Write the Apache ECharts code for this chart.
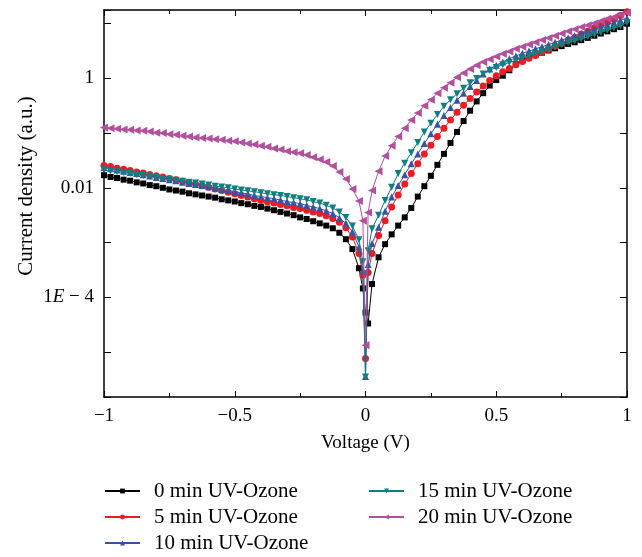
<!DOCTYPE html>
<html>
<head>
<meta charset="utf-8">
<script src="https://cdn.jsdelivr.net/npm/echarts@6/dist/echarts.min.js"></script>
<style>
html, body { margin: 0; padding: 0; background: #fff; }
#chart { width: 642px; height: 557px; }
</style>
</head>
<body>
<div id="chart"></div>
<script>
var fontName = 'Liberation Serif';

// voltage (V)
var voltage = [-1, -0.975, -0.95, -0.925, -0.9, -0.875, -0.85, -0.825, -0.8, -0.775,
	-0.75, -0.725, -0.7, -0.675, -0.65, -0.625, -0.6, -0.575, -0.55, -0.525,
	-0.5, -0.475, -0.45, -0.425, -0.4, -0.375, -0.35, -0.325, -0.3, -0.275,
	-0.25, -0.225, -0.2, -0.175, -0.15, -0.125, -0.1, -0.075, -0.05, -0.025,
	-0.01, 0, 0.01,
	0.025, 0.05, 0.075, 0.1, 0.125, 0.15, 0.175, 0.2, 0.225, 0.25,
	0.275, 0.3, 0.325, 0.35, 0.375, 0.4, 0.425, 0.45, 0.475, 0.5,
	0.525, 0.55, 0.575, 0.6, 0.625, 0.65, 0.675, 0.7, 0.725, 0.75,
	0.775, 0.8, 0.825, 0.85, 0.875, 0.9, 0.925, 0.95, 0.975, 1];

// current density (a.u.)
var j0min = [1.70e-2, 1.58e-2, 1.51e-2, 1.41e-2, 1.35e-2, 1.26e-2, 1.20e-2, 1.12e-2, 1.07e-2, 1.00e-2,
	9.33e-3, 8.91e-3, 8.51e-3, 7.94e-3, 7.59e-3, 7.24e-3, 6.92e-3, 6.61e-3, 6.17e-3, 5.89e-3,
	5.62e-3, 5.25e-3, 5.01e-3, 4.68e-3, 4.47e-3, 4.17e-3, 3.89e-3, 3.63e-3, 3.39e-3, 3.16e-3,
	2.88e-3, 2.69e-3, 2.45e-3, 2.24e-3, 2.04e-3, 1.82e-3, 1.51e-3, 1.15e-3, 7.59e-4, 3.39e-4,
	1.45e-4, 5.25e-5, 3.31e-5,
	1.74e-4, 5.37e-4, 9.33e-4, 1.41e-3, 2.04e-3, 2.88e-3, 4.27e-3, 6.92e-3, 1.07e-2, 1.66e-2,
	2.63e-2, 4.17e-2, 6.61e-2, 0.105, 0.166, 0.257, 0.380, 0.537, 0.741, 0.933,
	1.12, 1.41, 1.82, 2.14, 2.45, 2.69, 2.95, 3.24, 3.55, 3.89,
	4.27, 4.57, 5.01, 5.50, 6.03, 6.61, 7.24, 7.94, 8.71, 10.0];
var j5min = [2.57e-2, 2.45e-2, 2.29e-2, 2.19e-2, 2.07e-2, 1.95e-2, 1.86e-2, 1.76e-2, 1.66e-2, 1.58e-2,
	1.48e-2, 1.40e-2, 1.32e-2, 1.24e-2, 1.17e-2, 1.10e-2, 1.02e-2, 9.55e-3, 8.91e-3, 8.32e-3,
	7.76e-3, 7.24e-3, 6.76e-3, 6.31e-3, 5.89e-3, 5.56e-3, 5.25e-3, 4.95e-3, 4.68e-3, 4.37e-3,
	4.17e-3, 3.89e-3, 3.63e-3, 3.39e-3, 3.09e-3, 2.75e-3, 2.34e-3, 1.86e-3, 1.26e-3, 6.31e-4,
	2.51e-4, 7.59e-6, 2.82e-4,
	6.31e-4, 1.35e-3, 2.51e-3, 4.47e-3, 7.41e-3, 1.17e-2, 1.82e-2, 2.75e-2, 4.17e-2, 6.03e-2,
	8.71e-2, 0.123, 0.174, 0.240, 0.324, 0.427, 0.562, 0.724, 0.912, 1.12,
	1.32, 1.51, 1.78, 2.04, 2.34, 2.63, 3.02, 3.39, 3.89, 4.37,
	5.01, 5.62, 6.46, 7.24, 8.32, 9.33, 10.7, 12.0, 14.1, 16.6];
var j10min = [2.34e-2, 2.24e-2, 2.11e-2, 2.00e-2, 1.91e-2, 1.82e-2, 1.74e-2, 1.64e-2, 1.55e-2, 1.48e-2,
	1.41e-2, 1.35e-2, 1.27e-2, 1.20e-2, 1.15e-2, 1.10e-2, 1.05e-2, 9.89e-3, 9.33e-3, 8.91e-3,
	8.51e-3, 8.13e-3, 7.67e-3, 7.24e-3, 6.92e-3, 6.61e-3, 6.31e-3, 5.96e-3, 5.62e-3, 5.37e-3,
	5.13e-3, 4.79e-3, 4.47e-3, 4.17e-3, 3.80e-3, 3.39e-3, 2.82e-3, 2.24e-3, 1.58e-3, 8.32e-4,
	3.16e-4, 3.55e-6, 3.98e-4,
	9.55e-4, 1.91e-3, 3.72e-3, 6.76e-3, 1.10e-2, 1.74e-2, 2.75e-2, 4.17e-2, 6.46e-2, 9.77e-2,
	0.145, 0.209, 0.295, 0.398, 0.537, 0.708, 0.912, 1.20, 1.48, 1.74,
	2.00, 2.29, 2.57, 2.88, 3.16, 3.47, 3.80, 4.17, 4.57, 5.01,
	5.50, 6.03, 6.61, 7.24, 7.94, 8.71, 9.55, 10.5, 11.5, 12.6];
var j15min = [2.14e-2, 2.04e-2, 1.97e-2, 1.91e-2, 1.82e-2, 1.74e-2, 1.68e-2, 1.62e-2, 1.55e-2, 1.48e-2,
	1.43e-2, 1.38e-2, 1.32e-2, 1.26e-2, 1.22e-2, 1.17e-2, 1.12e-2, 1.07e-2, 1.04e-2, 1.00e-2,
	9.55e-3, 9.12e-3, 8.81e-3, 8.51e-3, 8.13e-3, 7.76e-3, 7.50e-3, 7.24e-3, 6.92e-3, 6.61e-3,
	6.31e-3, 6.03e-3, 5.62e-3, 5.25e-3, 4.79e-3, 4.27e-3, 3.63e-3, 2.88e-3, 2.00e-3, 1.12e-3,
	4.47e-4, 3.47e-6, 7.08e-4,
	1.78e-3, 3.16e-3, 5.89e-3, 1.02e-2, 1.82e-2, 2.82e-2, 4.37e-2, 6.76e-2, 0.105, 0.151,
	0.219, 0.309, 0.407, 0.525, 0.661, 0.832, 1.00, 1.20, 1.41, 1.58,
	1.78, 1.95, 2.14, 2.34, 2.57, 2.82, 3.09, 3.39, 3.72, 4.07,
	4.47, 4.79, 5.25, 5.75, 6.31, 6.92, 7.59, 8.32, 9.12, 10.5];
var j20min = [0.126, 0.123, 0.120, 0.117, 0.115, 0.112, 0.110, 0.107, 0.102, 0.100,
	0.0955, 0.0933, 0.0891, 0.0871, 0.0832, 0.0813, 0.0794, 0.0776, 0.0759, 0.0724,
	0.0708, 0.0676, 0.0646, 0.0617, 0.0589, 0.0562, 0.0525, 0.0501, 0.0468, 0.0447,
	0.0427, 0.0398, 0.0363, 0.0331, 0.0295, 0.0251, 0.0195, 0.0145, 0.00955, 0.00575,
	0.00251, 1.32e-5, 0.00355,
	0.00891, 0.0200, 0.0380, 0.0589, 0.0871, 0.123, 0.174, 0.234, 0.316, 0.407,
	0.537, 0.676, 0.832, 1.05, 1.26, 1.48, 1.74, 2.00, 2.24, 2.51,
	2.82, 3.09, 3.47, 3.80, 4.17, 4.57, 5.01, 5.50, 6.03, 6.61,
	7.24, 7.94, 8.71, 9.33, 10.2, 11.2, 12.3, 13.2, 14.5, 15.8];

var seriesNames = ['0 min UV-Ozone', '5 min UV-Ozone', '10 min UV-Ozone', '15 min UV-Ozone', '20 min UV-Ozone'];
var seriesValues = [j0min, j5min, j10min, j15min, j20min];
var colors = ['#000000', '#ed1c24', '#3953a4', '#0f7f7f', '#b2509e'];
var symbols = ['rect', 'circle', 'triangle', 'triangle', 'triangle'];
var symbolRotates = [0, 0, 0, 180, 90];
var symbolSizes = [6, 7, 7, 7, 8];

function pairs(vals) {
	var out = [];
	for (var i = 0; i < voltage.length; i++)
		out.push([voltage[i], vals[i]]);
	return out;
}

var series = [];
for (var s = 0; s < seriesNames.length; s++) {
	series.push({
		name: seriesNames[s],
		type: 'line',
		data: pairs(seriesValues[s]),
		symbol: symbols[s],
		symbolRotate: symbolRotates[s],
		symbolSize: symbolSizes[s],
		showSymbol: true,
		showAllSymbol: true,
		lineStyle: { width: 1, color: colors[s] },
		itemStyle: { color: colors[s] },
		z: 2 + s
	});
}

var txt = { fontFamily: fontName, fontSize: 19, color: '#000' };

function yLabel(v) {
	var lg = Math.log10(v), e = Math.round(lg);
	if (Math.abs(lg - e) > 1e-6) return '';
	if (e === 0) return '1';
	if (e === -2) return '0.01';
	if (e === -4) return '1{i|E} \u2212 4';
	return '';
}

var legendBase = {
	orient: 'vertical',
	padding: 0,
	itemWidth: 35,
	itemHeight: 6,
	itemGap: 4,
	textStyle: { fontFamily: fontName, fontSize: 21, color: '#000', lineHeight: 22, padding: [0, 0, 0, 9] }
};

var frameLine = { onZero: false, lineStyle: { color: '#000', width: 1.5 } };
var tick = { inside: true, length: 6, lineStyle: { color: '#000' } };
var minor = { show: true, splitNumber: 2, length: 4, lineStyle: { color: '#000' } };

var myChart = echarts.init(document.getElementById('chart'));
var option = {
	backgroundColor: '#fff',
	animation: false,
	grid: { left: 104, right: 15, top: 10, bottom: 160 },
	legend: [
		Object.assign({}, legendBase, { left: 104, top: 480, data: seriesNames.slice(0, 3) }),
		Object.assign({}, legendBase, { left: 368, top: 480, data: seriesNames.slice(3) })
	],
	xAxis: [{
		type: 'value', min: -1, max: 1, interval: 0.5,
		name: 'Voltage (V)', nameLocation: 'middle', nameGap: 37,
		nameTextStyle: txt,
		axisLine: frameLine,
		axisTick: tick,
		minorTick: minor,
		splitLine: { show: false },
		axisLabel: Object.assign({ margin: 10, formatter: function (v) { return String(v).replace('-', '\u2212'); } }, txt)
	}, {
		type: 'value', min: -1, max: 1, interval: 0.5, position: 'top',
		axisLine: frameLine,
		axisTick: tick,
		minorTick: minor,
		splitLine: { show: false },
		axisLabel: { show: false }
	}],
	yAxis: [{
		type: 'log', logBase: 10, min: 1.5e-6, max: 17.8,
		axisLine: { show: true, onZero: false, lineStyle: { color: '#000', width: 1.5 } },
		axisTick: { show: true, inside: true, length: 7, lineStyle: { color: '#000' } },
		splitLine: { show: false },
		axisLabel: Object.assign({ margin: 10, formatter: yLabel,
			rich: { i: { fontFamily: fontName, fontSize: 19, fontStyle: 'italic', color: '#000' } } }, txt)
	}, {
		type: 'log', logBase: 10, min: 1.5e-6, max: 17.8, position: 'right',
		axisLine: { show: true, onZero: false, lineStyle: { color: '#000', width: 1.5 } },
		axisTick: { show: true, inside: true, length: 7, lineStyle: { color: '#000' } },
		splitLine: { show: false },
		axisLabel: { show: false }
	}],
	graphic: [{
		type: 'text',
		x: 26, y: 186,
		rotation: Math.PI / 2,
		style: {
			text: 'Current density (a.u.)',
			font: '21px "Liberation Serif"',
			fill: '#000',
			align: 'center',
			verticalAlign: 'middle'
		}
	}],
	series: series
};
myChart.setOption(option);
</script>
</body>
</html>
